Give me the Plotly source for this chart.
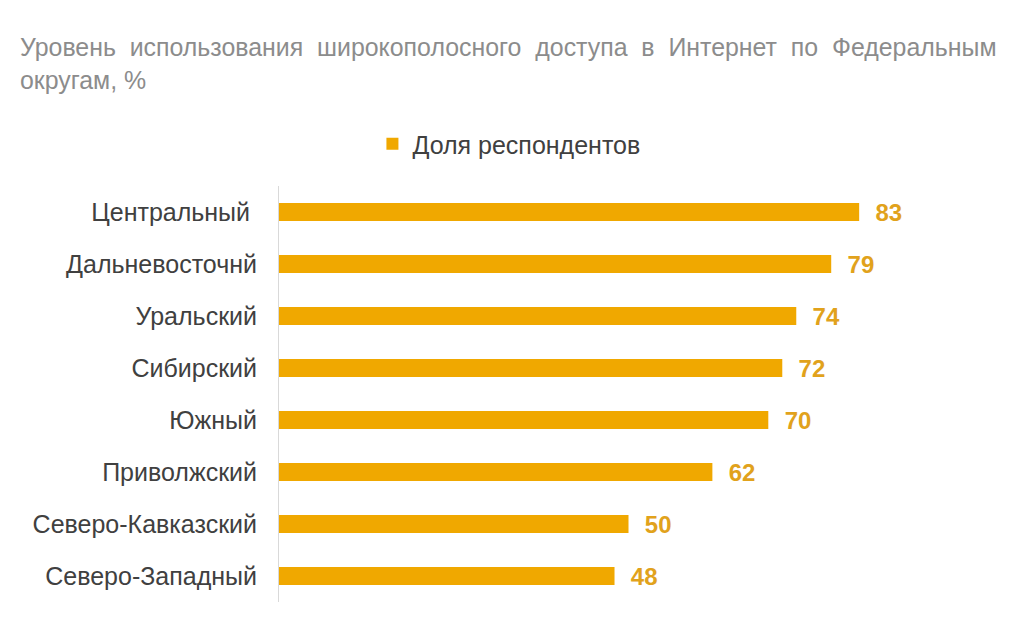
import plotly.graph_objects as go

categories = ["Центральный\u00a0", "Дальневосточнй", "Уральский", "Сибирский", "Южный",
              "Приволжский", "Северо-Кавказский", "Северо-Западный"]
values = [83, 79, 74, 72, 70, 62, 50, 48]
series_name = "Доля респондентов"
title_line1_words = ["Уровень", "использования", "широкополосного", "доступа", "в",
                     "Интернет", "по", "Федеральным"]
title_line2 = "округам, %"

BAR = "#F0A800"
LABEL = "#E1A21C"
FONT = "Liberation Sans, Arial, sans-serif"

fig = go.Figure()
fig.add_trace(go.Bar(
    y=categories, x=values, orientation="h", name=series_name,
    marker=dict(color=BAR, line=dict(width=0)),
    text=[f"\u00a0\u00a0{v}" for v in values], textposition="outside",
    constraintext="none",
    textfont=dict(color=LABEL, size=24, family=FONT, weight="bold"),
    cliponaxis=False,
))

fig.update_layout(
    width=1024, height=643,
    margin=dict(l=279, r=46, t=186, b=41),
    paper_bgcolor="white", plot_bgcolor="white",
    bargap=0.65,
    font=dict(family=FONT, color="#404040", size=25),
    showlegend=True,
    legend=dict(orientation="h", xref="container", yref="container",
                x=0.497, xanchor="center", y=1 - 144 / 643, yanchor="middle",
                font=dict(size=25, color="#404040"), itemwidth=30),
    xaxis=dict(range=[0, 100], visible=False, showgrid=False, zeroline=False),
    yaxis=dict(autorange="reversed", showline=True, linecolor="#D9D9D9", linewidth=1,
               ticks="", showgrid=False, ticklabelstandoff=16,
               tickfont=dict(size=25, color="#404040")),
)

title_x = (18 - 279) / 699
fig.add_annotation(text="\u00a0\u00a0".join(title_line1_words), xref="paper", yref="paper",
                   x=title_x, y=1 + (186 - 47) / 416, xanchor="left", yanchor="middle",
                   showarrow=False, font=dict(size=24.9, color="#8C8C8C"))
fig.add_annotation(text=title_line2, xref="paper", yref="paper",
                   x=title_x, y=1 + (186 - 80) / 416, xanchor="left", yanchor="middle",
                   showarrow=False, font=dict(size=24.9, color="#8C8C8C"))

fig.write_html("out.html")
